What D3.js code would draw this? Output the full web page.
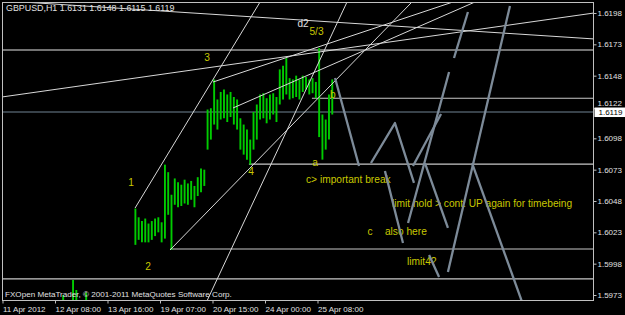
<!DOCTYPE html>
<html>
<head>
<meta charset="utf-8">
<script src="https://cdnjs.cloudflare.com/ajax/libs/d3/7.8.5/d3.min.js"></script>
<style>
  html, body { margin: 0; padding: 0; background: #000; }
  svg { display: block; font-family: "Liberation Sans", Arial, sans-serif; }
</style>
</head>
<body>
<svg id="chart" width="625" height="315"></svg>
<script>
// time axis (hour index from 11 Apr 00:00, chart hours)
const hourTicks = [0, 32, 64, 96, 128, 160, 192];
const hourLabels = ["11 Apr 2012", "12 Apr 08:00", "13 Apr 16:00", "19 Apr 07:00", "20 Apr 15:00", "24 Apr 00:00", "25 Apr 08:00"];
const priceTicks = [1.6198, 1.6173, 1.6148, 1.6122, 1.6098, 1.6073, 1.6048, 1.6023, 1.5998, 1.5973];
const bidPrice = 1.6119;

// early bars, mostly below the visible range
const earlyHours = [37, 43, 45, 51];
const earlyHigh = [1.5973, 1.5985, 1.5977, 1.5975];
const earlyLow = [1.5950, 1.5952, 1.5950, 1.5951];

// main bars, one every 2 hours from hour 81
const barStartHour = 81;
const barStepHours = 2;
const barHigh = [1.6042, 1.6035, 1.6032, 1.6034, 1.6030, 1.6032, 1.6034, 1.6035, 1.6031, 1.6077,
  1.6071, 1.6053, 1.6066, 1.6063, 1.6061, 1.6065, 1.6062, 1.6064, 1.6060, 1.6067,
  1.6074, 1.6073, 1.6121, 1.6122, 1.6145, 1.6129, 1.6135, 1.6137, 1.6133, 1.6135,
  1.6131, 1.6129, 1.6114, 1.6109, 1.6105, 1.6097, 1.6119, 1.6125, 1.6133, 1.6134,
  1.6130, 1.6133, 1.6134, 1.6131, 1.6153, 1.6156, 1.6162, 1.6146, 1.6145, 1.6148,
  1.6145, 1.6148, 1.6147, 1.6145, 1.6146, 1.6143, 1.6170, 1.6117, 1.6113, 1.6133, 1.6145];
const barLow = [1.6013, 1.6017, 1.6015, 1.6015, 1.6015, 1.6017, 1.6020, 1.6023, 1.6015, 1.6018,
  1.6037, 1.6009, 1.6045, 1.6043, 1.6044, 1.6046, 1.6045, 1.6049, 1.6043, 1.6052,
  1.6055, 1.6060, 1.6089, 1.6097, 1.6109, 1.6105, 1.6113, 1.6114, 1.6111, 1.6115,
  1.6109, 1.6105, 1.6089, 1.6085, 1.6081, 1.6077, 1.6089, 1.6097, 1.6113, 1.6114,
  1.6110, 1.6113, 1.6117, 1.6111, 1.6125, 1.6129, 1.6133, 1.6129, 1.6130, 1.6131,
  1.6129, 1.6135, 1.6137, 1.6133, 1.6134, 1.6130, 1.6099, 1.6081, 1.6089, 1.6097, 1.6117];

// horizontal lines: price, start hour
const hLinePrice = [1.61685, 1.61300, 1.60774, 1.60097, 1.59858];
const hLineStart = [-5, 188.6, 150.2, 102.1, -5];

// thin trendlines: [hour1, price1, hour2, price2]
const trendLines = [
  [11.9, 1.62068, 360.5, 1.61773],
  [-0.3, 1.61310, 360.5, 1.61980],
  [80.8, 1.60424, 157.0, 1.62068],
  [124.6, 1.59682, 210.0, 1.62068],
  [128.3, 1.61429, 274.6, 1.62068],
  [140.5, 1.61222, 288.0, 1.62068],
  [102.1, 1.60089, 249.6, 1.62068]
];

// thick grey forecast path segments: list of [hour, price] points
const pathLines = [
  [[202.7, 1.61461], [217.3, 1.60759]],
  [[224.6, 1.60783], [239.2, 1.61102], [250.8, 1.60624]],
  [[250.2, 1.60759], [267.3, 1.61174]],
  [[283.7, 1.61988], [275.2, 1.61621]],
  [[272.2, 1.61509], [247.2, 1.60304]],
  [[309.3, 1.62036], [271.5, 1.59914]],
  [[286.2, 1.60783], [316.7, 1.59674]],
  [[233.1, 1.60719], [244.1, 1.60145]],
  [[257.5, 1.60783], [271.5, 1.60265]],
  [[260.0, 1.60049], [266.1, 1.59874]]
];

// text notes: text, hour, price, anchor
const noteText = ["1", "2", "3", "4", "5/3", "a", "b", "c> important break",
  "limit hold > cont. UP again for timebeing", "c", "also here", "limit4?"];
const noteHour = [78.3, 88.7, 124.7, 151.5, 191.4, 190.5, 201.4, 185.0, 237.4, 224.0, 233.1, 246.6];
const notePrice = [1.60624, 1.59961, 1.61621, 1.60719, 1.61836, 1.60791, 1.61326, 1.60648, 1.60464, 1.60233, 1.60233, 1.60001];
const noteAnchor = ["middle", "middle", "middle", "middle", "middle", "middle", "middle", "start", "start", "middle", "start", "start"];

const svg = d3.select("#chart");
const W = 625, H = 315;
const plotLeft = 2.5, plotRight = 593.5, plotTop = 2.5, plotBottom = 300.5;

svg.append("rect").attr("width", W).attr("height", H).attr("fill", "#000");

const x = d3.scaleLinear().domain([0, 192]).range([2.5, 317.5]);
const y = d3.scaleLinear().domain([1.5973, 1.6198]).range([295, 13]);

svg.append("clipPath").attr("id", "plot")
  .append("rect").attr("x", 2).attr("y", 2).attr("width", 592).attr("height", 299);

const plot = svg.append("g").attr("clip-path", "url(#plot)");

// bid line
plot.append("line")
  .attr("x1", plotLeft).attr("x2", plotRight)
  .attr("y1", y(bidPrice)).attr("y2", y(bidPrice))
  .attr("stroke", "#708494").attr("stroke-width", 1.2);

// horizontal levels
plot.selectAll(".hl").data(hLinePrice).join("line")
  .attr("x1", (d, i) => x(hLineStart[i])).attr("x2", plotRight + 5)
  .attr("y1", d => y(d)).attr("y2", d => y(d))
  .attr("stroke", (d, i) => i === 0 ? "#9a9a9a" : "#c8c8c8")
  .attr("stroke-width", (d, i) => i === 0 ? 1.6 : 1.2);

// bars
const bars = barHigh.map((h, i) => ({ hour: barStartHour + i * barStepHours, high: h, low: barLow[i] }))
  .concat(earlyHours.map((hr, i) => ({ hour: hr, high: earlyHigh[i], low: earlyLow[i] })));

plot.selectAll(".bar").data(bars).join("line")
  .attr("x1", d => x(d.hour)).attr("x2", d => x(d.hour))
  .attr("y1", d => y(d.high)).attr("y2", d => y(d.low))
  .attr("stroke", "#00cc00").attr("stroke-width", 1.9);

// thin trendlines
plot.selectAll(".tl").data(trendLines).join("line")
  .attr("x1", d => x(d[0])).attr("y1", d => y(d[1]))
  .attr("x2", d => x(d[2])).attr("y2", d => y(d[3]))
  .attr("stroke", "#d8d8d8").attr("stroke-width", 1);

// notes
plot.selectAll(".note").data(noteText).join("text")
  .attr("x", (d, i) => x(noteHour[i])).attr("y", (d, i) => y(notePrice[i]))
  .attr("text-anchor", (d, i) => noteAnchor[i])
  .attr("dominant-baseline", "central")
  .attr("font-size", 10.2).attr("fill", "#c8c800")
  .text(d => d);

plot.append("text")
  .attr("x", x(183.2)).attr("y", y(1.6190))
  .attr("text-anchor", "middle").attr("dominant-baseline", "central")
  .attr("font-size", 10).attr("fill", "#e0e0e0").text("d2");

// thick grey path
const line = d3.line().x(d => x(d[0])).y(d => y(d[1]));
plot.selectAll(".pl").data(pathLines).join("path")
  .attr("d", line).attr("fill", "none")
  .attr("stroke", "#7d8b99").attr("stroke-width", 2.3)
  .attr("stroke-linejoin", "round");

// header / footer text
plot.append("text").attr("x", 6).attr("y", 11)
  .attr("font-size", 8.9).attr("fill", "#e0e0e0")
  .text("GBPUSD,H1  1.6131 1.6148 1.6115 1.6119");
plot.append("text").attr("x", 5).attr("y", 297)
  .attr("font-size", 8.1).attr("fill", "#e0e0e0")
  .text("FXOpen MetaTrader, © 2001-2011 MetaQuotes Software Corp.");

// frame
svg.append("rect")
  .attr("x", plotLeft).attr("y", plotTop)
  .attr("width", plotRight - plotLeft).attr("height", plotBottom - plotTop)
  .attr("fill", "none").attr("stroke", "#c0c0c0").attr("stroke-width", 1);

// price axis
const yAxis = svg.append("g").attr("transform", `translate(${plotRight},0)`)
  .call(d3.axisRight(y).tickValues(priceTicks).tickSize(3).tickPadding(1).tickFormat(d3.format(".4f")));
yAxis.select(".domain").remove();
yAxis.selectAll("line").attr("stroke", "#c0c0c0");
yAxis.selectAll("text").attr("fill", "#e0e0e0").attr("font-size", 8)
  .attr("font-family", "Liberation Sans, Arial, sans-serif");
// the label under the bid box sits a little higher, as in the terminal
yAxis.selectAll(".tick").filter(d => Math.abs(d - bidPrice) < 0.0006)
  .select("text").attr("dy", "-0.3em");

// bid label box
const bidG = svg.append("g").attr("transform", `translate(${plotRight + 1},${y(bidPrice)})`);
bidG.append("rect").attr("x", 0).attr("y", -4.5).attr("width", 31).attr("height", 9.5).attr("fill", "#fff");
bidG.append("text").attr("x", 4).attr("y", 0.5).attr("dominant-baseline", "central")
  .attr("font-size", 8).attr("fill", "#000").text(d3.format(".4f")(bidPrice));

// time axis
const xAxis = svg.append("g").attr("transform", `translate(0,${plotBottom})`)
  .call(d3.axisBottom(x).tickValues(hourTicks).tickSize(3).tickPadding(3).tickFormat((d, i) => hourLabels[i]));
xAxis.select(".domain").remove();
xAxis.selectAll("line").attr("stroke", "#c0c0c0");
xAxis.selectAll("text").attr("fill", "#e0e0e0").attr("font-size", 8)
  .attr("text-anchor", "start").attr("x", 0)
  .attr("font-family", "Liberation Sans, Arial, sans-serif");
</script>
</body>
</html>
